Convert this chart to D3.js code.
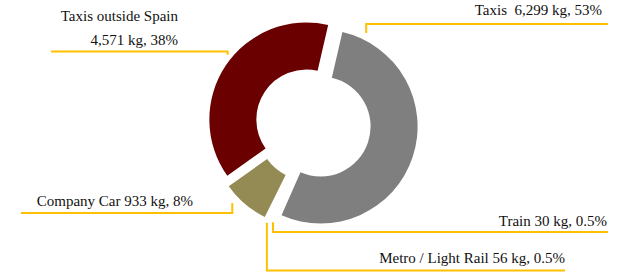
<!DOCTYPE html>
<html>
<head>
<meta charset="utf-8">
<script src="https://cdn.jsdelivr.net/npm/d3@7"></script>
<style>
  html, body { margin: 0; padding: 0; background: #fff; }
  svg { display: block; }
  text { font-family: "Liberation Serif", "DejaVu Serif", serif; font-size: 15px; fill: #111; white-space: pre; }
</style>
</head>
<body>
<svg id="chart" width="623" height="272"></svg>
<script>
// ---- data ----
const categories = ["Taxis", "Train", "Metro / Light Rail", "Company Car", "Taxis outside Spain"];
const values = [6299, 30, 56, 933, 4571];
const percentLabels = ["53%", "0.5%", "0.5%", "8%", "38%"];
const colors = ["#7f7f7f", "none", "none", "#948a54", "#6b0000"];

// ---- layout (annotation placement, not data) ----
const W = 623, H = 272;
const cx = 313, cy = 124;
const outerR = 97, innerR = 50, explode = 8;
const startDeg = 13;
const labelLayout = [
  { angle: 26, r: 104, lineY: 24, endX: 608, textX: 602, textY: 15, anchor: "end", sep: "  " },
  { angle: 202, r: 98, lineY: 232, endX: 608, textX: 607, textY: 226, anchor: "end", sep: " " },
  { angle: 205, r: 101, lineY: 270.5, endX: 565, textX: 565, textY: 263, anchor: "end", sep: " " },
  { angle: 226, r: 105, lineY: 213, endX: 21, textX: 193, textY: 206, anchor: "end", sep: " " },
  { angle: 309.5, r: 102, lineY: 51.5, endX: 51, textX: 178, textY: 45, anchor: "end", sep: " ", twoLine: true, line1Y: 21 }
];

const svg = d3.select("#chart");
const fmt = d3.format(",");

const pie = d3.pie().sort(null).value(d => d)
  .startAngle(startDeg * Math.PI / 180)
  .endAngle(startDeg * Math.PI / 180 + 2 * Math.PI);
const arcs = pie(values);
const arc = d3.arc().innerRadius(innerR).outerRadius(outerR);

const g = svg.append("g").attr("transform", `translate(${cx},${cy})`);

function offsetOf(a) {
  const mid = (a.startAngle + a.endAngle) / 2;
  return [explode * Math.sin(mid), -explode * Math.cos(mid)];
}

g.selectAll("path.slice").data(arcs).enter().append("path")
  .attr("class", "slice")
  .attr("d", arc)
  .attr("fill", (d, i) => colors[i])
  .attr("transform", d => { const o = offsetOf(d); return `translate(${o[0]},${o[1]})`; });

const ly = svg.append("g");
arcs.forEach((a, i) => {
  const L = labelLayout[i];
  const o = offsetOf(a);
  const ang = L.angle * Math.PI / 180;
  const ax = cx + o[0] + L.r * Math.sin(ang);
  const ay = cy + o[1] - L.r * Math.cos(ang);
  ly.append("path")
    .attr("d", `M${ax},${ay}V${L.lineY}H${L.endX}`)
    .attr("fill", "none")
    .attr("stroke", "#ffc000")
    .attr("stroke-width", 2);
  if (L.twoLine) {
    ly.append("text").attr("x", L.textX).attr("y", L.line1Y).attr("text-anchor", L.anchor)
      .text(categories[i]);
    ly.append("text").attr("x", L.textX).attr("y", L.textY).attr("text-anchor", L.anchor)
      .text(`${fmt(values[i])} kg, ${percentLabels[i]}`);
  } else {
    ly.append("text").attr("x", L.textX).attr("y", L.textY).attr("text-anchor", L.anchor)
      .text(`${categories[i]}${L.sep}${fmt(values[i])} kg, ${percentLabels[i]}`);
  }
});
</script>
</body>
</html>
